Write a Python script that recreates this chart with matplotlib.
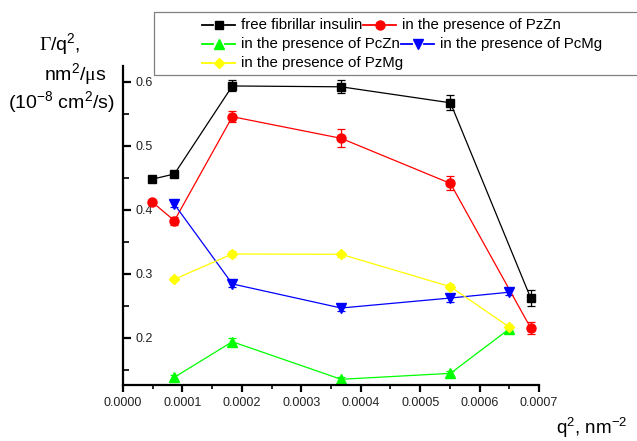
import matplotlib
matplotlib.use('Agg')
import matplotlib.pyplot as plt
from matplotlib.lines import Line2D
from matplotlib.patches import Rectangle
from matplotlib.ticker import MultipleLocator, FormatStrFormatter

plt.rcParams['font.family'] = ['Liberation Sans', 'DejaVu Sans']
plt.rcParams['mathtext.fontset'] = 'custom'
plt.rcParams['mathtext.rm'] = 'Liberation Sans'
plt.rcParams['mathtext.it'] = 'Liberation Sans:italic'
plt.rcParams['mathtext.bf'] = 'Liberation Serif'

# ---- data ----
q2_long = [4.85e-5, 8.65e-5, 1.84e-4, 3.67e-4, 5.51e-4, 6.86e-4]
q2_short = [8.6e-5, 1.84e-4, 3.67e-4, 5.51e-4, 6.49e-4]

free_insulin = [0.4475, 0.4558, 0.5933, 0.592, 0.567, 0.262]
free_err = [0.002, 0.005, 0.0086, 0.010, 0.0115, 0.012]

pzzn = [0.4125, 0.3828, 0.5453, 0.5115, 0.441, 0.2152]
pzzn_err = [0.002, 0.006, 0.009, 0.014, 0.011, 0.009]

pczn = [0.138, 0.1937, 0.135, 0.1443, 0.213]
pczn_err = [0.004, 0.006, 0.003, 0.004, 0.003]

pcmg = [0.409, 0.284, 0.2464, 0.262, 0.271]
pcmg_err = [0.005, 0.005, 0.005, 0.007, 0.005]

pzmg = [0.2912, 0.3308, 0.3303, 0.2797, 0.2172]
pzmg_err = [0.003, 0.004, 0.004, 0.004, 0.003]

labels = ['free fibrillar insulin', 'in the presence of PzZn',
          'in the presence of PcZn', 'in the presence of PcMg',
          'in the presence of PzMg']
x_ticks = [0.0, 0.0001, 0.0002, 0.0003, 0.0004, 0.0005, 0.0006, 0.0007]
y_ticks = [0.2, 0.3, 0.4, 0.5, 0.6]

W, H = 637, 441
fig = plt.figure(figsize=(W / 100, H / 100), dpi=100)
ax = fig.add_axes([123 / W, (H - 385) / H, (539 - 123) / W, (385 - 66) / H])

series = [
    (q2_long, free_insulin, free_err, 'black', 's', 5.5),
    (q2_long, pzzn, pzzn_err, '#ff0000', 'o', 6.5),
    (q2_short, pczn, pczn_err, '#00ff00', '^', 6.5),
    (q2_short, pcmg, pcmg_err, '#0000ff', 'v', 6.5),
    (q2_short, pzmg, pzmg_err, '#ffff00', 'D', 5.0),
]
for x, y, e, c, m, ms in series:
    ax.errorbar(x, y, yerr=e, color=c, marker=m, ms=ms, lw=0.9,
                elinewidth=0.9, capsize=3, capthick=0.9, mec=c, mfc=c)

ax.set_xlim(0, 0.0007)
ax.set_ylim(0.1261, 0.6245)
for s in ['top', 'right']:
    ax.spines[s].set_visible(False)
for s in ['left', 'bottom']:
    ax.spines[s].set_linewidth(1.6)

ax.set_xticks(x_ticks)
ax.xaxis.set_major_formatter(FormatStrFormatter('%.4f'))
ax.xaxis.set_minor_locator(MultipleLocator(0.00005))
ax.set_yticks(y_ticks)
ax.yaxis.set_major_formatter(FormatStrFormatter('%.1f'))
ax.yaxis.set_minor_locator(MultipleLocator(0.05))

ax.tick_params(axis='x', which='major', direction='out', length=5, width=1.6,
               labelsize=9, pad=4)
ax.tick_params(axis='x', which='minor', direction='out', length=3, width=1.2)
ax.tick_params(axis='y', which='major', direction='in', length=6, width=1.6,
               labelsize=9, pad=-9)
ax.tick_params(axis='y', which='minor', direction='in', length=4, width=1.2)
for lbl in ax.get_yticklabels():
    lbl.set_horizontalalignment('left')
    lbl.set_color('#222222')
for lbl in ax.get_xticklabels():
    lbl.set_color('#222222')


def fx(px):
    return px / W


def fy(py):
    return 1 - py / H


# ---- y label (three lines) ----
fig.text(fx(60), fy(50), r'$\mathbf{\Gamma}$/q$^2$,', ha='center', va='baseline', fontsize=14)
fig.text(fx(75), fy(80), r'nm$^2$/$\mathbf{\mu}$s', ha='center', va='baseline', fontsize=14)
fig.text(fx(61), fy(108), r'(10$^{-8}$ cm$^2$/s)', ha='center', va='baseline', fontsize=14)

# ---- x label ----
fig.text(fx(556), fy(434), r'q$^2$, nm$^{-2}$', ha='left', va='baseline', fontsize=13.5)

# ---- legend (flowing layout) ----
fig.patches.append(Rectangle((fx(154), fy(75)), fx(640) - fx(154), fy(12) - fy(75),
                             transform=fig.transFigure, fill=True, facecolor='white',
                             edgecolor='#808080', lw=0.9, zorder=5))
renderer = fig.canvas.get_renderer()


def handle(x0, y0, c, m, ms):
    for xa, xb in [(x0, x0 + 11.6), (x0 + 23.3, x0 + 33.3)]:
        fig.add_artist(Line2D([fx(xa), fx(xb)], [fy(y0), fy(y0)], color=c, lw=1.3,
                              transform=fig.transFigure, zorder=6))
    fig.add_artist(Line2D([fx(x0 + 17.3)], [fy(y0)], color=c, marker=m, ms=ms, mec=c,
                          mfc=c, lw=0, transform=fig.transFigure, zorder=6))


def entry(x0, y0, idx):
    _, _, _, c, m, ms = series[idx]
    handle(x0, y0, c, m, ms)
    t = fig.text(fx(x0 + 39), fy(y0), labels[idx], ha='left', va='center',
                 fontsize=10.8, zorder=6)
    bb = t.get_window_extent(renderer)
    return bb.x1


rows = [(25, [0, 1]), (44.3, [2, 3]), (63.3, [4])]
for ry, idxs in rows:
    x = 201.7
    for i in idxs:
        x = entry(x, ry, i) + 1

fig.savefig('out.png', dpi=100)
